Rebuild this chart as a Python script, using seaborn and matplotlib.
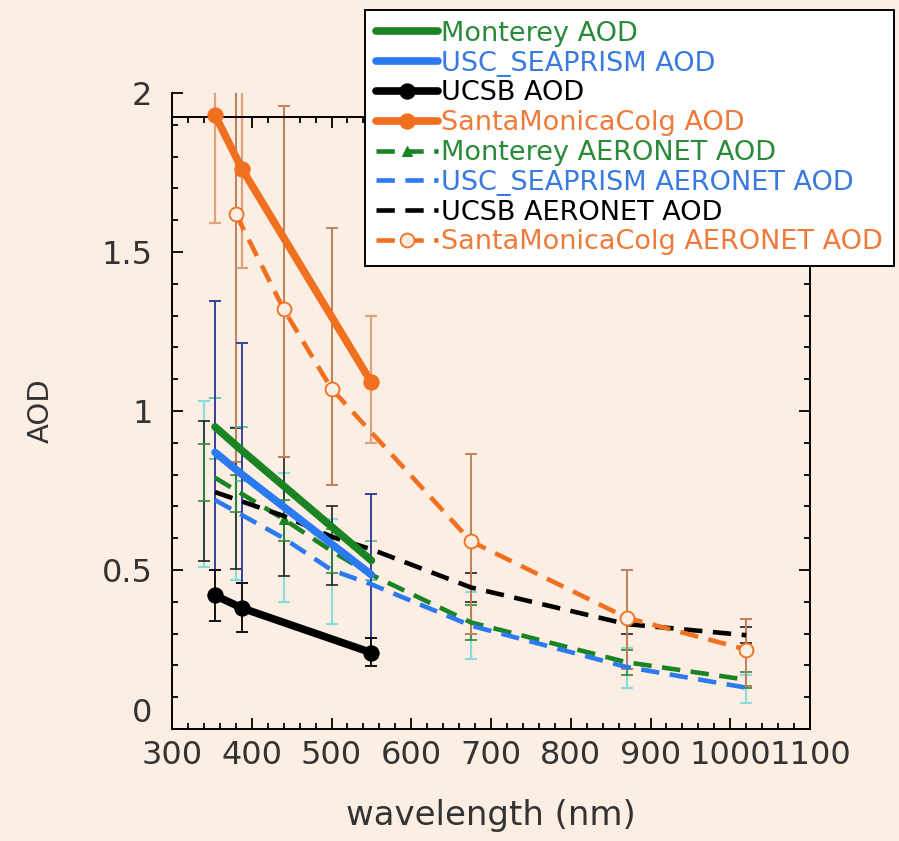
import numpy as np
import matplotlib
matplotlib.use('Agg')
import matplotlib.pyplot as plt
from matplotlib.ticker import MultipleLocator, FuncFormatter
import seaborn as sns

# satellite retrieval wavelengths (solid lines)
sat_wl = [354, 388, 550]
monterey_aod = [0.95, 0.875, 0.53]
usc_aod = [0.87, 0.80, 0.485]
ucsb_aod = [0.42, 0.38, 0.24]
smc_aod = [1.93, 1.76, 1.09]

# AERONET curves (dashed lines)
aer_wl = [354, 440, 500, 550, 675, 870, 1020]
monterey_aer = [0.79, 0.66, 0.56, 0.485, 0.335, 0.21, 0.155]
usc_aer = [0.72, 0.60, 0.50, 0.455, 0.325, 0.195, 0.13]
ucsb_aer = [0.745, 0.67, 0.605, 0.565, 0.445, 0.33, 0.295]
smc_aer_wl = [380, 440, 500, 675, 870, 1020]
smc_aer = [1.62, 1.32, 1.07, 0.59, 0.35, 0.25]

# error bar ranges (low, high)
smc_aod_lo = [1.59, 1.45, 0.90]
smc_aod_hi = [2.3, 2.3, 1.30]
usc_aod_lo = [0.50, 0.46, 0.286]
usc_aod_hi = [1.345, 1.214, 0.739]
ucsb_aod_lo = [0.34, 0.305, 0.198]
ucsb_aod_hi = [0.50, 0.46, 0.286]
monterey_aod_lo = [0.85, 0.78, 0.47]
monterey_aod_hi = [1.04, 0.95, 0.59]

aer_bar_wl = [340, 380, 440, 500, 675, 870, 1020]
ucsb_aer_lo = [0.528, 0.503, 0.48, 0.453, 0.40, 0.30, 0.27]
ucsb_aer_hi = [0.968, 0.947, 0.855, 0.70, 0.49, 0.36, 0.32]
usc_aer_lo = [0.51, 0.468, 0.40, 0.33, 0.22, 0.13, 0.082]
usc_aer_hi = [1.03, 0.95, 0.805, 0.66, 0.43, 0.255, 0.17]
monterey_aer_lo = [0.717, 0.682, 0.59, 0.49, 0.28, 0.17, 0.13]
monterey_aer_hi = [0.896, 0.80, 0.72, 0.63, 0.39, 0.25, 0.18]
smc_aer_lo = [0.84, 0.855, 0.767, 0.30, 0.19, 0.135]
smc_aer_hi = [2.3, 1.96, 1.575, 0.865, 0.50, 0.346]

bg = '#fceee2'
green = '#1a8424'
blue = '#2c7af0'
orange = '#f07020'
black = '#000000'

sns.set_theme(style='ticks')
plt.rcParams['font.family'] = ['DejaVu Sans']

fig = plt.figure(figsize=(8.99, 8.41), dpi=100, facecolor=bg)
ax = fig.add_axes([172/899, 1-729/841, (810-172)/899, (729-93)/841])
ax.set_facecolor(bg)


def bars(wl, lo, hi, color, lw=1.2):
    lo, hi = np.array(lo), np.array(hi)
    ax.errorbar(wl, (lo+hi)/2, yerr=(hi-lo)/2, fmt='none', ecolor=color,
                elinewidth=lw, capsize=4.5, capthick=lw, zorder=2)


# error bars go underneath the lines
bars(aer_bar_wl, usc_aer_lo, usc_aer_hi, '#8adcdc', 1.6)
bars(aer_bar_wl, ucsb_aer_lo, ucsb_aer_hi, '#222222')
bars(aer_bar_wl, monterey_aer_lo, monterey_aer_hi, '#2e8a3a')
bars(smc_aer_wl, smc_aer_lo, smc_aer_hi, '#c0805a', 1.4)
bars(sat_wl, smc_aod_lo, smc_aod_hi, '#dca47e', 1.6)
bars(sat_wl, monterey_aod_lo, monterey_aod_hi, '#5ab89a')
bars(sat_wl, usc_aod_lo, usc_aod_hi, '#34429e', 1.4)
bars(sat_wl, ucsb_aod_lo, ucsb_aod_hi, '#111111', 1.4)

solid = dict(lw=5.5, zorder=4)
dash = dict(lw=3.3, linestyle=(0, (4, 2.3)), zorder=3)

sns.lineplot(x=sat_wl, y=monterey_aod, color=green, label='Monterey AOD', ax=ax, **solid)
sns.lineplot(x=sat_wl, y=usc_aod, color=blue, label='USC_SEAPRISM AOD', ax=ax, **solid)
sns.lineplot(x=sat_wl, y=ucsb_aod, color=black, marker='o', ms=11, mec=black,
             label='UCSB AOD', ax=ax, **solid)
sns.lineplot(x=sat_wl, y=smc_aod, color=orange, marker='o', ms=11, mec=orange,
             label='SantaMonicaColg AOD', ax=ax, **solid)
sns.lineplot(x=aer_wl, y=monterey_aer, color=green, marker='^', ms=7, mec=green,
             markevery=[1], label='Monterey AERONET AOD', ax=ax, **dash)
sns.lineplot(x=aer_wl, y=usc_aer, color=blue, label='USC_SEAPRISM AERONET AOD', ax=ax, **dash)
sns.lineplot(x=aer_wl, y=ucsb_aer, color=black, label='UCSB AERONET AOD', ax=ax, **dash)
sns.lineplot(x=smc_aer_wl, y=smc_aer, color=orange, marker='o', ms=10, mfc=bg, mec=orange,
             mew=1.3, label='SantaMonicaColg AERONET AOD', ax=ax, **dash)

handles, labels = ax.get_legend_handles_labels()
if ax.get_legend() is not None:
    ax.get_legend().remove()

ax.set_xlim(300, 1100)
ax.set_ylim(0, 2.0)
ax.xaxis.set_major_locator(MultipleLocator(100))
ax.xaxis.set_minor_locator(MultipleLocator(20))
ax.yaxis.set_major_locator(MultipleLocator(0.5))
ax.yaxis.set_minor_locator(MultipleLocator(0.1))
ax.yaxis.set_major_formatter(FuncFormatter(lambda v, p: '%g' % v))

for s in ax.spines.values():
    s.set_visible(True)
    s.set_color('black')
    s.set_linewidth(1.4)
ax.spines['top'].set_position(('data', 1.925))

ax.tick_params(which='both', direction='in', top=True, right=True,
               color='black', width=1.3, labelcolor='#333333', labelsize=23)
ax.tick_params(which='major', length=8)
ax.tick_params(which='minor', length=4)
ax.tick_params(axis='x', pad=8)
ax.tick_params(axis='y', pad=14)

ax.set_xlabel('wavelength (nm)', fontsize=24.5, color='#333333', labelpad=20)
ax.set_ylabel('AOD', fontsize=21, color='#333333', labelpad=34)

fig.canvas.draw()
# lift the "0" so it clears the x tick labels
for lab in ax.get_yticklabels():
    if lab.get_text() == '0':
        lab.set_verticalalignment('bottom')

text_colors = ['#2a8a3a', '#3a7ae0', 'black', '#f07a3a',
               '#2a8a3a', '#3a7ae0', 'black', '#f07a3a']
leg = fig.legend(handles, labels, loc='upper left', bbox_to_anchor=(365/899, 1-10/841),
                 borderaxespad=0, fontsize=19.5, frameon=True, fancybox=False, framealpha=1,
                 facecolor='white', edgecolor='black', handlelength=2.3,
                 handletextpad=0.1, labelspacing=0.14, borderpad=0.4)
leg.get_frame().set_linewidth(1.4)
for t, c in zip(leg.get_texts(), text_colors):
    t.set_color(c)

fig.savefig('out.png', dpi=100, facecolor=bg)
